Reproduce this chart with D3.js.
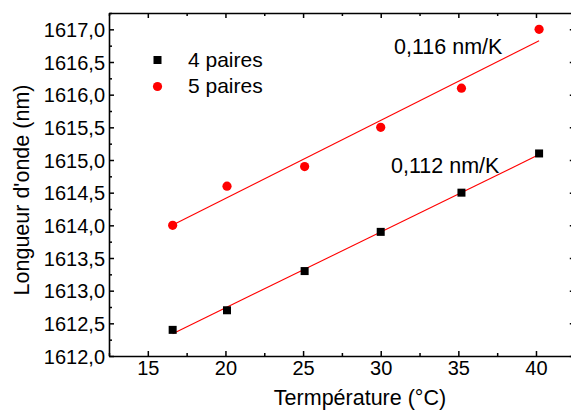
<!DOCTYPE html>
<meta charset="utf-8">
<script src="https://cdn.jsdelivr.net/npm/d3@7"></script>
<style>
body{margin:0;background:#fff;}
text{font-family:"Liberation Sans",Arial,sans-serif;fill:#000;}
</style>
<body>
<script>
// data
var temp=[16.6,20.1,25.1,30.0,35.2,40.2];
var paires4=[1612.4,1612.7,1613.3,1613.9,1614.5,1615.1];
var paires5=[1614.0,1614.6,1614.9,1615.5,1616.1,1617.0];
var series=["4 paires","5 paires"];
var pentes=["0,116 nm/K","0,112 nm/K"];
var xTicks=[15,20,25,30,35,40];
var yTicks=[1612,1612.5,1613,1613.5,1614,1614.5,1615,1615.5,1616,1616.5,1617];

var W=571,H=410;
var m={l:109,r:574.8,t:13,b:356};

var svg=d3.select("body").append("svg").attr("width",W).attr("height",H);

var x=d3.scaleLinear().domain([12.5,42.5]).range([m.l,m.r]);
var y=d3.scaleLinear().domain([1612,1617.25]).range([m.b,m.t]);

var fmt=function(d){return d3.format(".1f")(d).replace(".",",");};

var xMinor=d3.range(12.5,42.6,2.5).filter(function(d){return xTicks.indexOf(d)<0;});
var yMinor=d3.range(1612.25,1617.3,0.5);

// minor ticks first
function minor(axis,pos){
  var g=svg.append("g").attr("transform",pos).call(axis);
  g.select(".domain").remove();
  g.selectAll("text").remove();
  g.selectAll("line").attr("stroke-width",1.5);
}
minor(d3.axisBottom(x).tickValues(xMinor).tickSizeInner(-3).tickSizeOuter(0),"translate(0,"+m.b+")");
minor(d3.axisTop(x).tickValues(xMinor).tickSizeInner(-3).tickSizeOuter(0),"translate(0,"+m.t+")");
minor(d3.axisLeft(y).tickValues(yMinor).tickSizeInner(-3).tickSizeOuter(0),"translate("+m.l+",0)");
minor(d3.axisRight(y).tickValues(yMinor).tickSizeInner(-3).tickSizeOuter(0),"translate("+m.r+",0)");

var gx=svg.append("g").attr("transform","translate(0,"+m.b+")")
  .call(d3.axisBottom(x).tickValues(xTicks).tickSizeInner(-5).tickSizeOuter(0).tickPadding(4));
var gxt=svg.append("g").attr("transform","translate(0,"+m.t+")")
  .call(d3.axisTop(x).tickValues(xTicks).tickSizeInner(-5).tickSizeOuter(0).tickFormat(""));
var gy=svg.append("g").attr("transform","translate("+m.l+",0)")
  .call(d3.axisLeft(y).tickValues(yTicks).tickSizeInner(-5).tickSizeOuter(0).tickPadding(4).tickFormat(fmt));
var gyr=svg.append("g").attr("transform","translate("+m.r+",0)")
  .call(d3.axisRight(y).tickValues(yTicks).tickSizeInner(-5).tickSizeOuter(0).tickFormat(""));

[gx,gxt,gy,gyr].forEach(function(g){
  g.select(".domain").attr("stroke-width",1.6);
  g.selectAll("line").attr("stroke-width",1.5);
});
gx.selectAll("text").style("font-size","20px").attr("dy","0.85em").attr("y",2);
gy.selectAll("text").style("font-size","20px").attr("dy","0.36em");

// least-squares fit lines
function fit(xs,ys){
  var mx=d3.mean(xs),my=d3.mean(ys),sxy=0,sxx=0;
  xs.forEach(function(v,i){sxy+=(v-mx)*(ys[i]-my);sxx+=(v-mx)*(v-mx);});
  var a=sxy/sxx,b=my-a*mx;
  var x0=d3.min(xs),x1=d3.max(xs);
  return [[x0,a*x0+b],[x1,a*x1+b]];
}
var line=d3.line().x(function(d){return x(d[0]);}).y(function(d){return y(d[1]);});
[paires4,paires5].forEach(function(s){
  svg.append("path").datum(fit(temp,s)).attr("d",line)
    .attr("stroke","#ff0000").attr("stroke-width",1.1).attr("fill","none");
});

// points
svg.selectAll(".sq").data(paires4).enter().append("rect")
  .attr("x",function(d,i){return x(temp[i])-4;})
  .attr("y",function(d){return y(d)-4;})
  .attr("width",8).attr("height",8).attr("fill","#000");
svg.selectAll(".ci").data(paires5).enter().append("circle")
  .attr("cx",function(d,i){return x(temp[i]);})
  .attr("cy",function(d){return y(d);})
  .attr("r",4.6).attr("fill","#ff0000");

// legend
svg.append("rect").attr("x",153.5).attr("y",56).attr("width",8).attr("height",8).attr("fill","#000");
svg.append("circle").attr("cx",157.5).attr("cy",86.5).attr("r",4.6).attr("fill","#ff0000");
svg.append("text").attr("x",188).attr("y",67).style("font-size","21px").text(series[0]);
svg.append("text").attr("x",188).attr("y",93).style("font-size","21px").text(series[1]);

// slopes
svg.append("text").attr("x",394).attr("y",54).style("font-size","21.5px").text(pentes[0]);
svg.append("text").attr("x",391).attr("y",172.5).style("font-size","21.5px").text(pentes[1]);

// axis titles
svg.append("text").attr("x",360).attr("y",405).attr("text-anchor","middle")
  .style("font-size","21.5px").text("Termpérature (°C)");
svg.append("text").attr("transform","translate(29,190) rotate(-90)").attr("text-anchor","middle")
  .style("font-size","21.5px").text("Longueur d'onde (nm)");
</script>
</body>
</html>
